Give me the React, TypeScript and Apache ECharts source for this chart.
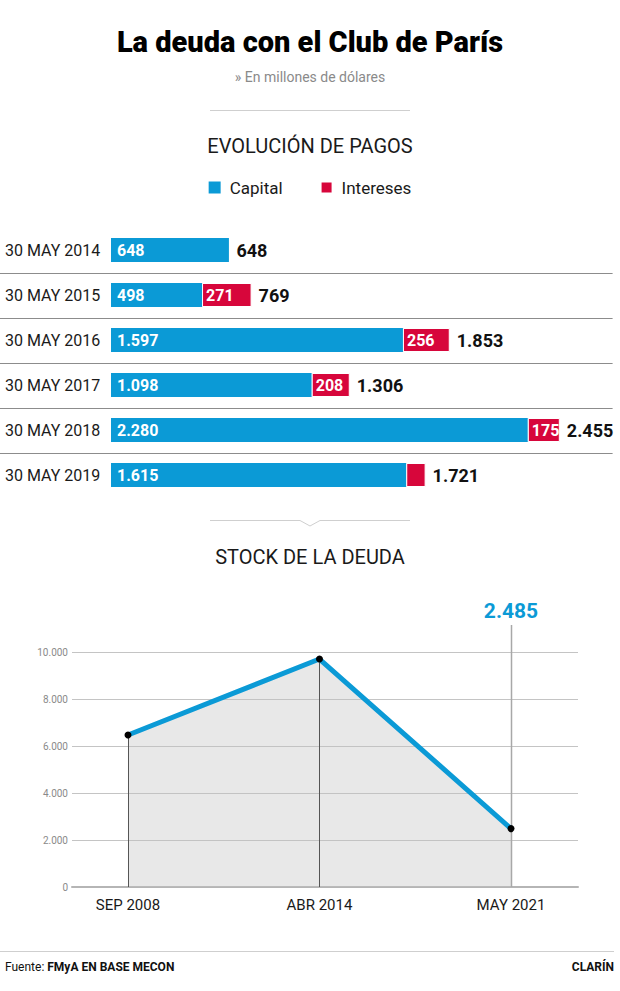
import React, { useEffect, useRef } from "react";
import * as echarts from "echarts";

// ---------- DATA ----------
const payDates = ["30 MAY 2014", "30 MAY 2015", "30 MAY 2016", "30 MAY 2017", "30 MAY 2018", "30 MAY 2019"];
const capital = [648, 498, 1597, 1098, 2280, 1615];
const intereses = [0, 271, 256, 208, 175, 106];
const totals = [648, 769, 1853, 1306, 2455, 1721];

const stockCats = ["SEP 2008", "ABR 2014", "MAY 2021"];
const stockValues = [6470, 9700, 2485];
const stockTicks = [0, 2000, 4000, 6000, 8000, 10000];

const legendNames = ["Capital", "Intereses"];

const BLUE = "#0b9ad6";
const RED = "#d7063b";
const FONT = "Roboto, 'Noto Sans', sans-serif";

const fmt = (v: number) => String(Math.round(v)).replace(/\B(?=(\d{3})+(?!\d))/g, ".");

export default function App() {
  const ref = useRef<HTMLDivElement>(null);

  useEffect(() => {
    if (!ref.current) return;
    const chart = echarts.init(ref.current, undefined, { renderer: "svg" });

    const option: any = {
      animation: false,
      backgroundColor: "#fff",
      textStyle: { fontFamily: FONT },
      legend: {
        data: legendNames,
        top: 174,
        left: "center",
        icon: "rect",
        itemWidth: 12,
        itemHeight: 12,
        itemGap: 37,
        textStyle: { fontSize: 17, color: "#1a1a1a", fontFamily: FONT, padding: [0, 0, 0, 4] },
      },
      graphic: [
        {
          type: "text",
          x: 310,
          y: 42,
          style: {
            text: "La deuda con el Club de París",
            fontSize: 29,
            fontWeight: 900,
            fontFamily: FONT,
            fill: "#000",
            align: "center",
            verticalAlign: "middle",
          },
        },
        {
          type: "text",
          x: 310,
          y: 77,
          style: {
            text: "» En millones de dólares",
            fontSize: 14,
            fontFamily: FONT,
            fill: "#8a8a8a",
            align: "center",
            verticalAlign: "middle",
          },
        },
        {
          type: "line",
          shape: { x1: 210, y1: 110.5, x2: 410, y2: 110.5 },
          style: { stroke: "#cfcfcf", lineWidth: 1 },
        },
        {
          type: "text",
          x: 310,
          y: 146,
          style: {
            text: "EVOLUCIÓN DE PAGOS",
            fontSize: 20,
            fontFamily: FONT,
            fill: "#1a1a1a",
            align: "center",
            verticalAlign: "middle",
          },
        },
        {
          type: "polyline",
          shape: { points: [[210, 520.5], [300, 520.5], [310, 526], [320, 520.5], [410, 520.5]] },
          style: { stroke: "#cfcfcf", lineWidth: 1, fill: null },
        },
        {
          type: "text",
          x: 310,
          y: 557,
          style: {
            text: "STOCK DE LA DEUDA",
            fontSize: 20,
            fontFamily: FONT,
            fill: "#1a1a1a",
            align: "center",
            verticalAlign: "middle",
          },
        },
        {
          type: "line",
          shape: { x1: 0, y1: 951.5, x2: 614, y2: 951.5 },
          style: { stroke: "#cfcfcf", lineWidth: 1 },
        },
        {
          type: "text",
          x: 5,
          y: 967,
          style: {
            text: "{r|Fuente: }{b|FMyA EN BASE MECON}",
            verticalAlign: "middle",
            rich: {
              r: { fontSize: 12, fontFamily: FONT, fill: "#111" },
              b: { fontSize: 12, fontFamily: FONT, fontWeight: "bold", fill: "#111" },
            },
          },
        },
        {
          type: "text",
          x: 614,
          y: 967,
          style: {
            text: "CLARÍN",
            fontSize: 12,
            fontWeight: "bold",
            fontFamily: FONT,
            fill: "#111",
            align: "right",
            verticalAlign: "middle",
          },
        },
      ],
      grid: [
        { left: 111, top: 227.5, height: 270, right: 15.4 },
        { left: 72, right: 42, top: 652, height: 235 },
      ],
      xAxis: [
        { gridIndex: 0, type: "value", min: 0, max: 2700, show: false },
        {
          gridIndex: 1,
          type: "value",
          min: -0.2924,
          max: 2.35,
          axisLine: { show: true, lineStyle: { color: "#b5b5b5", width: 2 } },
          axisTick: { show: false },
          splitLine: { show: false },
          axisLabel: {
            customValues: [0, 1, 2],
            formatter: (v: number) => (Number.isInteger(v) ? stockCats[v] ?? "" : ""),
            fontSize: 15,
            color: "#1a1a1a",
            fontFamily: FONT,
            margin: 10,
          },
        },
      ],
      yAxis: [
        {
          gridIndex: 0,
          type: "category",
          data: payDates,
          inverse: true,
          axisLine: { show: false },
          axisTick: { show: false },
          splitLine: { show: false },
          axisLabel: { align: "left", margin: 106, fontSize: 16, color: "#1a1a1a", fontFamily: FONT },
        },
        {
          gridIndex: 1,
          type: "value",
          min: stockTicks[0],
          max: stockTicks[stockTicks.length - 1],
          interval: stockTicks[1] - stockTicks[0],
          axisLine: { show: false },
          axisTick: { show: false },
          splitLine: { lineStyle: { color: "#c4c4c4", width: 1 } },
          axisLabel: { formatter: (v: number) => fmt(v), color: "#8a8a8a", fontSize: 10, margin: 4, fontFamily: FONT },
        },
      ],
      series: [
        {
          name: "sep",
          type: "custom",
          xAxisIndex: 0,
          yAxisIndex: 0,
          clip: false,
          silent: true,
          data: payDates.slice(1).map((_, i) => [0, i + 1]),
          renderItem: (params: any, api: any) => {
            const c = api.coord([0, api.value(1)]);
            const half = api.size([0, 1])[1] / 2;
            const y = Math.round(c[1] - half) + 0.5;
            const cs = params.coordSys;
            return {
              type: "line",
              shape: { x1: 0, y1: y, x2: cs.x + cs.width + 8, y2: y },
              style: { stroke: "#8c8c8c", lineWidth: 1 },
            };
          },
        },
        {
          name: "Capital",
          type: "bar",
          xAxisIndex: 0,
          yAxisIndex: 0,
          stack: "p",
          barWidth: 24,
          data: capital,
          itemStyle: { color: BLUE },
          label: {
            show: true,
            position: "insideLeft",
            distance: 6,
            formatter: (p: any) => fmt(p.value),
            color: "#fff",
            fontWeight: "bold",
            fontSize: 16,
            fontFamily: FONT,
          },
        },
        {
          name: "Intereses",
          type: "bar",
          xAxisIndex: 0,
          yAxisIndex: 0,
          stack: "p",
          barWidth: 24,
          data: intereses,
          itemStyle: { color: RED, borderColor: "#fff", borderWidth: 1 },
          label: {
            show: true,
            position: "insideLeft",
            distance: 4,
            formatter: (p: any) => (p.value >= 150 ? fmt(p.value) : ""),
            color: "#fff",
            fontWeight: "bold",
            fontSize: 16,
            fontFamily: FONT,
          },
        },
        {
          name: "Total",
          type: "bar",
          xAxisIndex: 0,
          yAxisIndex: 0,
          barWidth: 24,
          barGap: "-100%",
          data: totals,
          itemStyle: { color: "rgba(0,0,0,0)" },
          silent: true,
          label: {
            show: true,
            position: "right",
            distance: 7,
            formatter: (p: any) => fmt(p.value),
            color: "#111",
            fontWeight: "bold",
            fontSize: 18,
            fontFamily: FONT,
          },
        },
        {
          name: "area",
          type: "line",
          xAxisIndex: 1,
          yAxisIndex: 1,
          data: stockValues.map((v, i) => [i, v]),
          symbol: "none",
          lineStyle: { width: 0 },
          areaStyle: { color: "rgba(195,195,195,0.38)", opacity: 1 },
          z: 1,
          silent: true,
        },
        {
          name: "vlines",
          type: "custom",
          xAxisIndex: 1,
          yAxisIndex: 1,
          clip: false,
          silent: true,
          z: 2,
          data: stockValues.map((v, i) => [i, v]),
          renderItem: (params: any, api: any) => {
            const idx = params.dataIndex;
            const base = api.coord([api.value(0), 0]);
            const pt = api.coord([api.value(0), api.value(1)]);
            const last = idx === stockValues.length - 1;
            const cs = params.coordSys;
            const topY = last ? cs.y - 27 : pt[1];
            const children: any[] = [
              {
                type: "line",
                shape: { x1: Math.round(base[0]) + 0.5, y1: base[1], x2: Math.round(base[0]) + 0.5, y2: topY },
                style: { stroke: last ? "#a8a8a8" : "#555", lineWidth: last ? 1.5 : 1 },
              },
            ];
            if (last) {
              children.push({
                type: "text",
                x: base[0],
                y: topY - 4,
                style: {
                  text: fmt(api.value(1)),
                  fill: BLUE,
                  fontSize: 21,
                  fontWeight: "bold",
                  fontFamily: FONT,
                  align: "center",
                  verticalAlign: "bottom",
                },
              });
            }
            return { type: "group", children };
          },
        },
        {
          name: "stock",
          type: "line",
          xAxisIndex: 1,
          yAxisIndex: 1,
          data: stockValues.map((v, i) => [i, v]),
          symbol: "circle",
          symbolSize: 7,
          itemStyle: { color: "#000" },
          lineStyle: { color: BLUE, width: 5 },
          z: 3,
          silent: true,
        },
      ],
    };

    chart.setOption(option);
    return () => chart.dispose();
  }, []);

  return <div ref={ref} style={{ width: 620, height: 991, position: "absolute", left: 0, top: 0 }} />;
}
